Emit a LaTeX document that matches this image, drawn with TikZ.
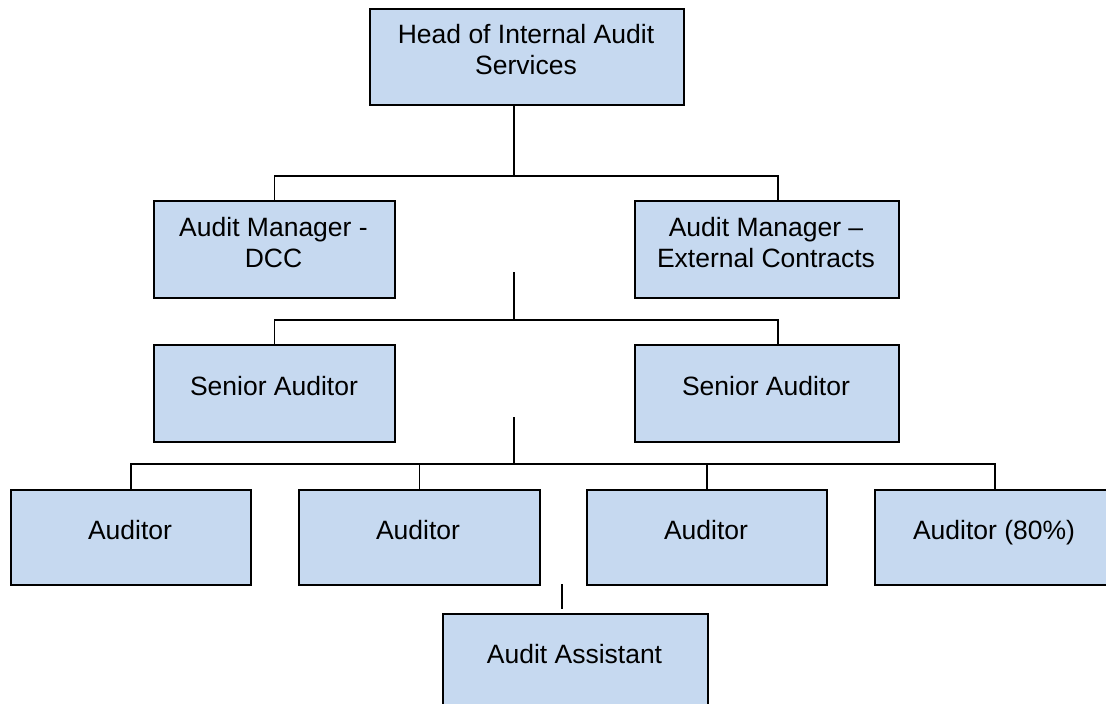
\documentclass[tikz,border=0pt]{standalone}
\usepackage{fontspec}
\setmainfont{Liberation Sans}
\definecolor{boxblue}{RGB}{198,217,240}
\begin{document}
\begin{tikzpicture}[x=1pt,y=-1pt,
  orgbox/.style={draw=black, fill=boxblue, line width=1.8pt, rectangle, inner sep=0pt, anchor=north west},
  lbl/.style={font=\fontsize{26.5}{30.5}\selectfont, align=center, anchor=base, inner sep=0pt},
  conn/.style={line width=1.8pt, draw=black}]
\clip (0,0) rectangle (1106,704);
\useasboundingbox (0,0) rectangle (1106,704);
% boxes
\node[orgbox, minimum width=314pt, minimum height=96pt] (head) at (369,8) {};
\node[orgbox, minimum width=241pt, minimum height=97pt] (amdcc) at (153,200) {};
\node[orgbox, minimum width=264pt, minimum height=97pt] (amext) at (634,200) {};
\node[orgbox, minimum width=241pt, minimum height=97pt] (sen1) at (153,344) {};
\node[orgbox, minimum width=264pt, minimum height=97pt] (sen2) at (634,344) {};
\node[orgbox, minimum width=240pt, minimum height=95pt] (aud1) at (10,489) {};
\node[orgbox, minimum width=241pt, minimum height=95pt] (aud2) at (298,489) {};
\node[orgbox, minimum width=240pt, minimum height=95pt] (aud3) at (586,489) {};
\node[orgbox, minimum width=240pt, minimum height=95pt] (aud4) at (874,489) {};
\node[orgbox, minimum width=265pt, minimum height=100pt] (asst) at (442,613) {};
% labels (multi-line labels are anchored at the baseline of their last line)
\node[lbl] (thead) at (526,74) {Head of Internal Audit\\Services};
\node[lbl] (tamdcc) at (273.5,267) {Audit Manager -\\DCC};
\node[lbl] (tamext) at (766,267) {Audit Manager –\\External Contracts};
\node[lbl] (tsen1) at (274,395) {Senior Auditor};
\node[lbl] (tsen2) at (766,395) {Senior Auditor};
\node[lbl] (taud1) at (130,539) {Auditor};
\node[lbl] (taud2) at (418,539) {Auditor};
\node[lbl] (taud3) at (706,539) {Auditor};
\node[lbl] (taud4) at (994,539) {Auditor (80\%)};
\node[lbl] (tasst) at (574.5,663) {Audit Assistant};
% connectors
\coordinate (j1) at (514,176);
\coordinate (r1) at (778,200);
\coordinate (s1) at (514,272);
\coordinate (j2) at (514,320);
\coordinate (r2) at (778,344);
\coordinate (s2) at (514,417);
\coordinate (j3) at (514,464);
\coordinate (a1) at (562,584);
\coordinate (a2) at (562,609);
\draw[conn] (head.south -| j1) -- (j1);
\draw[conn] (amdcc.north) |- (j1) -| (r1);
\draw[conn] (s1) -- (j2);
\draw[conn] (sen1.north) |- (j2) -| (r2);
\draw[conn] (s2) -- (j3);
\draw[conn] (aud1.north) |- (j3) -| (aud4.north);
\draw[conn] (aud2.north) -- (aud2.north |- j3);
\draw[conn] (aud3.north) -- (aud3.north |- j3);
\draw[conn] (a1) -- (a2);
\end{tikzpicture}
\end{document}
